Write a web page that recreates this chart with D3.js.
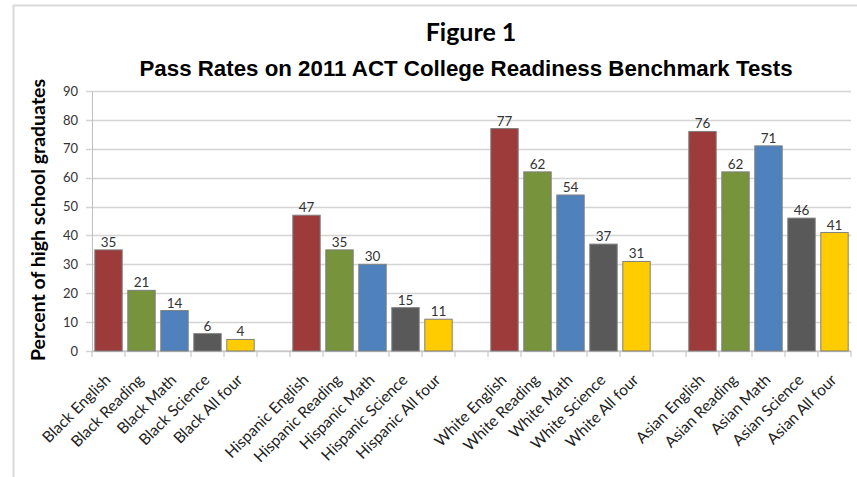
<!DOCTYPE html>
<html>
<head>
<meta charset="utf-8">
<script src="https://cdn.jsdelivr.net/npm/d3@7"></script>
<style>
  body { margin: 0; background: #fff; }
  svg text { font-family: Lato, "Open Sans", sans-serif; }
</style>
</head>
<body>
<div id="node"></div>
<script>
// categories (empty strings are the spacer slots between groups)
const labels = [
  "Black English", "Black Reading", "Black Math", "Black Science", "Black All four", "",
  "Hispanic English", "Hispanic Reading", "Hispanic Math", "Hispanic Science", "Hispanic All four", "",
  "White English", "White Reading", "White Math", "White Science", "White All four", "",
  "Asian English", "Asian Reading", "Asian Math", "Asian Science", "Asian All four"
];
const values = [35, 21, 14, 6, 4, null, 47, 35, 30, 15, 11, null, 77, 62, 54, 37, 31, null, 76, 62, 71, 46, 41];
const subjects = ["English", "Reading", "Math", "Science", "All four"];
const subjectColors = ["#9d3a3a", "#77933c", "#4f81bd", "#595959", "#ffcc00"];
const yTicks = [0, 10, 20, 30, 40, 50, 60, 70, 80, 90];

const width = 857, height = 477;
const margin = { top: 91, right: 6, bottom: 126, left: 92 };
const plotW = width - margin.left - margin.right;
const plotH = height - margin.top - margin.bottom;

const svg = d3.select("#node").append("svg")
  .attr("width", width)
  .attr("height", height);

// outer frame (only top and left edges show in the crop)
svg.append("line").attr("x1", 13).attr("x2", width).attr("y1", 5.5).attr("y2", 5.5)
  .attr("stroke", "#d9d9d9").attr("stroke-width", 2);
svg.append("line").attr("x1", 13.5).attr("x2", 13.5).attr("y1", 5).attr("y2", height)
  .attr("stroke", "#d9d9d9").attr("stroke-width", 2);

// titles
svg.append("text")
  .attr("x", 471).attr("y", 41)
  .attr("text-anchor", "middle")
  .style("font-size", "25px").style("font-weight", "bold")
  .text("Figure 1");
svg.append("text")
  .attr("x", 466).attr("y", 76)
  .attr("text-anchor", "middle")
  .style("font-family", "'Liberation Sans', Arial, sans-serif")
  .style("font-size", "22.3px").style("font-weight", "bold")
  .text("Pass Rates on 2011 ACT College Readiness Benchmark Tests");

const g = svg.append("g")
  .attr("transform", "translate(" + margin.left + "," + margin.top + ")");

const x = d3.scaleBand()
  .domain(d3.range(labels.length))
  .range([0, plotW])
  .paddingInner(0.17)
  .paddingOuter(0.085);

const y = d3.scaleLinear()
  .domain([0, 90])
  .range([plotH, 0]);

// gridlines
g.append("g")
  .selectAll("line")
  .data(yTicks)
  .enter()
  .append("line")
  .attr("x1", -6).attr("x2", plotW)
  .attr("y1", d => Math.round(y(d)) + 0.5)
  .attr("y2", d => Math.round(y(d)) + 0.5)
  .attr("stroke", "#d4d4d4")
  .attr("stroke-width", 1.3);

// y axis
const yAxis = g.append("g")
  .call(d3.axisLeft(y).tickValues(yTicks).tickSize(0).tickPadding(14));
yAxis.select(".domain").attr("stroke", "#bfbfbf");
yAxis.selectAll("text")
  .style("font-size", "13px")
  .attr("fill", "#333");

// x axis (ticks at slot boundaries)
const step = x.step();
const xAxis = g.append("g")
  .attr("transform", "translate(0," + plotH + ")");
xAxis.append("line")
  .attr("x1", 0).attr("x2", plotW)
  .attr("stroke", "#bfbfbf");
xAxis.selectAll(".tick")
  .data(d3.range(labels.length + 1))
  .enter()
  .append("line")
  .attr("x1", d => d * step).attr("x2", d => d * step)
  .attr("y1", 0).attr("y2", 6)
  .attr("stroke", "#bfbfbf");

xAxis.selectAll(".xlabel")
  .data(labels)
  .enter()
  .append("text")
  .attr("class", "xlabel")
  .attr("text-anchor", "end")
  .attr("transform", (d, i) => "translate(" + (x(i) + x.bandwidth() / 2 + 3) + ",30) rotate(-45)")
  .style("font-size", "15.5px")
  .attr("fill", "#222")
  .text(d => d);

// bars
const barData = values.map((v, i) => ({ v: v, i: i })).filter(d => d.v !== null);

g.append("g")
  .selectAll("rect")
  .data(barData)
  .enter()
  .append("rect")
  .attr("x", d => x(d.i))
  .attr("y", d => y(d.v))
  .attr("width", x.bandwidth())
  .attr("height", d => plotH - y(d.v))
  .attr("fill", d => subjectColors[subjects.findIndex(s => labels[d.i].endsWith(s))])
  .attr("stroke", "#7f7f7f")
  .attr("stroke-width", 1);

// value labels
g.append("g")
  .selectAll("text")
  .data(barData)
  .enter()
  .append("text")
  .attr("x", d => x(d.i) + x.bandwidth() / 2)
  .attr("y", d => y(d.v) - 3)
  .attr("text-anchor", "middle")
  .style("font-size", "13.5px")
  .attr("fill", "#333")
  .text(d => d.v);

// y axis title
svg.append("text")
  .attr("transform", "translate(45,220) rotate(-90)")
  .attr("text-anchor", "middle")
  .style("font-size", "19.5px").style("font-weight", "bold")
  .text("Percent of high school graduates");
</script>
</body>
</html>
